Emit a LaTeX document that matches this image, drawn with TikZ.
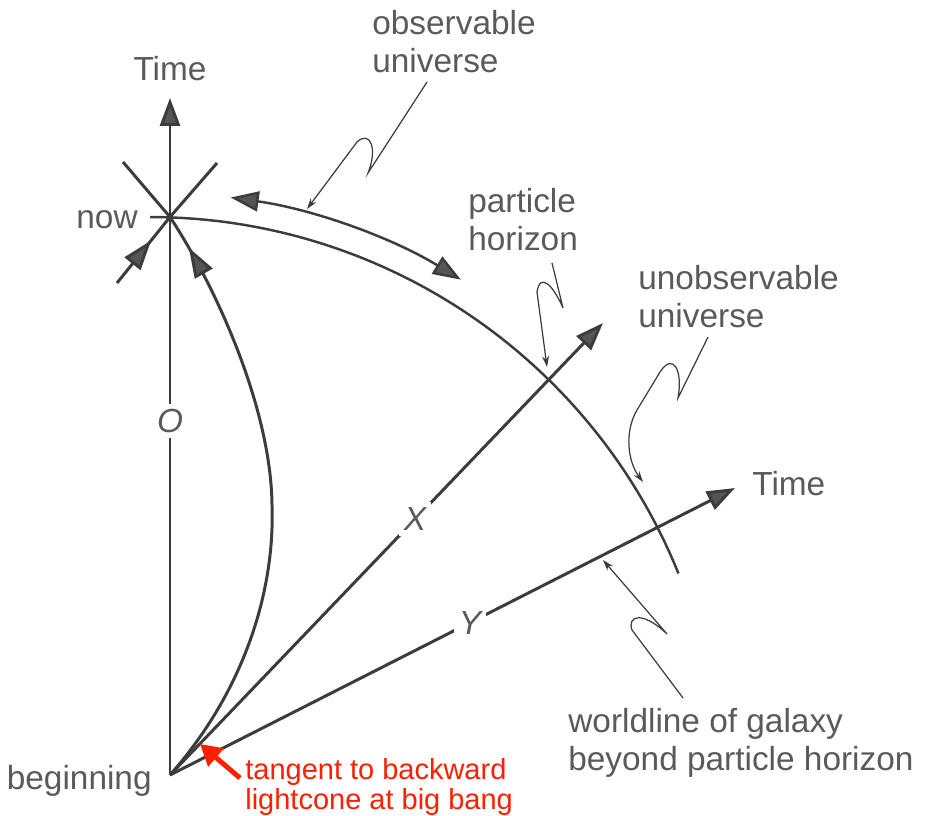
\documentclass[tikz,border=0pt]{standalone}
\usepackage{fontspec}
\setmainfont{Liberation Sans}
\usetikzlibrary{arrows.meta,decorations.markings}

\definecolor{inkgray}{HTML}{3C3C3C}
\definecolor{headgray}{HTML}{555555}
\definecolor{txtgray}{HTML}{5A5A5A}
\definecolor{notered}{RGB}{250,32,0}

\begin{document}
\begin{tikzpicture}[
  x=0.02cm, y=-0.02cm,
  lbl/.style={text=txtgray, font=\fontsize{19}{21.5}\selectfont, inner sep=0pt, align=left},
  axislbl/.style={text=txtgray, font=\fontsize{19}{21.5}\selectfont\itshape, fill=white, inner sep=3pt},
  note/.style={text=notered, font=\fontsize{16.5}{17}\selectfont, inner sep=0pt, align=left},
  world/.style={draw=inkgray, line width=1.7pt},
  horizon/.style={draw=inkgray, line width=1.4pt},
  arrow/.style={world, -{Triangle[length=0.56cm, width=0.4cm, fill=headgray]}},
  midarrow/.style={world, postaction={decorate},
    decoration={markings, mark=at position #1 with {\arrow{Triangle[length=0.6cm, width=0.4cm, fill=headgray]}}}},
  leader/.style={draw=inkgray, line width=0.7pt, -{Stealth[length=2.2mm, width=1.4mm]}},
  notearrow/.style={draw=notered, line width=2.8pt, -{Triangle[length=0.42cm, width=0.46cm]}}
]
\useasboundingbox (0,0) rectangle (932,815);

% events
\coordinate (beg) at (170,775);
\coordinate (now) at (170,217);
\coordinate (timetop) at (170,98);
\coordinate (xend) at (603,323);
\coordinate (yend) at (735,488);
\coordinate (ph) at (547,367);
\coordinate (ul) at (123,162);
\coordinate (ur) at (217,163);
\coordinate (ll) at (117,283);

% worldlines
\draw[arrow] (beg) -- (timetop) node[pos=0.523, axislbl] {O};
\draw[arrow] (beg) -- (xend) node[pos=0.566, axislbl] {X};
\draw[arrow] (beg) -- (yend) node[pos=0.531, axislbl] {Y};

% light cone at now
\draw[world] (now) -- (ul);
\draw[world] (now) -- (ur);
\draw[midarrow=-0.6cm] (ll) -- (now);
\draw[midarrow=-0.72cm] (beg) .. controls (245,690) and (275,590) .. (272,505)
  .. controls (271,410) and (218,290) .. (now);

% particle horizon
\draw[horizon] plot[domain=-90:-22, samples=60] ({150+570*cos(\x)}, {787+570*sin(\x)});
\coordinate (obsl) at (230.7,197.5);
\coordinate (obsr) at (460.9,279.7);
\draw[horizon, {Triangle[length=0.56cm, width=0.4cm, fill=headgray]}-{Triangle[length=0.56cm, width=0.4cm, fill=headgray]}]
  (obsl) .. controls (312,209) and (391,237) .. (obsr);

% labels
\node[lbl, anchor=base] (ttop) at (170,80) {Time};
\node[lbl, anchor=base west] (tright) at (752,495) {Time};
\node[lbl, anchor=base east] (nowlbl) at (138,228) {now};
\node[lbl, anchor=base east] (beglbl) at (152,789) {beginning};
\node[lbl, anchor=base west] (obs) at (372,72) {observable\\universe};
\node[lbl, anchor=base west] (phl) at (468,250) {particle\\horizon};
\node[lbl, anchor=base west] (unobs) at (638,327) {unobservable\\universe};
\node[lbl, anchor=base west] (gal) at (568,770) {worldline of galaxy\\beyond particle horizon};
\node[note, anchor=base west] (tangent) at (245,809) {tangent to backward\\lightcone at big bang};

% leaders
\coordinate (obsa) at (427,82);
\coordinate (obsb) at (368,173);
\coordinate (obst) at (307,209);
\draw[leader] (obsa) -- (obsb) .. controls (378,148) and (370,130) .. (357,142) -- (obst);
\coordinate (pha) at (552,263);
\coordinate (phb) at (563,308);
\draw[leader] (pha) -- (phb) .. controls (553,285) and (540,272) .. (537,292) -- (ph);
\coordinate (uoa) at (708,337);
\coordinate (uob) at (678,398);
\coordinate (uot) at (643,482);
\draw[leader] (uoa) -- (uob) .. controls (683,370) and (673,352) .. (660,372) -- (637,410)
  .. controls (624,432) and (628,462) .. (uot);
\coordinate (gla) at (683,698);
\coordinate (glb) at (632,630);
\coordinate (glt) at (603,560);
\draw[leader] (gla) -- (glb) .. controls (627,616) and (642,610) .. (667,634) -- (glt);

% red note
\coordinate (redtail) at (240,778);
\coordinate (redtip) at (200,744);
\draw[notearrow] (redtail) -- (redtip);
\end{tikzpicture}
\end{document}
